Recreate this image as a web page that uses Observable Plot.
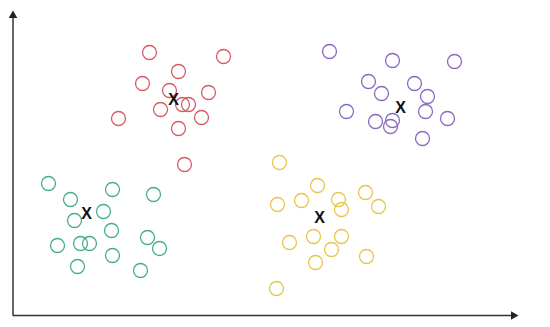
<!DOCTYPE html>
<html>
<head>
<meta charset="utf-8">
<script src="https://cdn.jsdelivr.net/npm/d3@7"></script>
<script src="https://cdn.jsdelivr.net/npm/@observablehq/plot@0.6"></script>
<style>
  html, body { margin: 0; padding: 0; background: #fff; }
  #chart svg { display: block; }
</style>
</head>
<body>
<div id="chart"></div>
<script>
// Cluster points (x to the right, y upward)
const redX = [149, 223, 178, 142, 169, 208, 160, 182, 188, 118, 201, 178, 184];
const redY = [275, 271, 256, 244, 237, 235, 218, 223, 223, 209, 210, 199, 163];

const purpleX = [329, 392, 454, 368, 414, 381, 427, 346, 425, 375, 392, 390, 447, 422];
const purpleY = [276, 267, 266, 246, 244, 234, 231, 216, 216, 206, 207, 201, 209, 189];

const greenX = [48, 70, 112, 153, 74, 103, 111, 57, 80, 89, 147, 159, 112, 77, 140];
const greenY = [144, 128, 138, 133, 107, 116, 97, 82, 84, 84, 90, 79, 72, 61, 57];

const yellowX = [279, 317, 277, 301, 338, 341, 365, 378, 289, 313, 341, 331, 315, 366, 276];
const yellowY = [165, 142, 123, 127, 128, 118, 135, 121, 85, 91, 91, 78, 65, 71, 39];

// Centroids (marked "X")
const centroidX = [173, 400, 86, 319];
const centroidY = [228, 220, 114, 110];
const centroidLabel = ["X", "X", "X", "X"];

// Axis extents
const axisOrigin = [12.5, 12];
const axisEnd = [513, 312];

const clusterNames = ["Cluster 1", "Cluster 2", "Cluster 3", "Cluster 4"];
const clusterColors = ["#d65a62", "#8a68c0", "#45ad88", "#e6c64a"];

const points = [];
[[redX, redY], [purpleX, purpleY], [greenX, greenY], [yellowX, yellowY]].forEach(([xs, ys], k) => {
  xs.forEach((x, i) => points.push({x, y: ys[i], cluster: clusterNames[k]}));
});
const centroids = centroidX.map((x, i) => ({x, y: centroidY[i], label: centroidLabel[i]}));

const chart = Plot.plot({
  width: 550,
  height: 327,
  marginLeft: 0, marginRight: 0, marginTop: 0, marginBottom: 0,
  x: {domain: [0, 550], axis: null},
  y: {domain: [0, 327], axis: null},
  color: {type: "ordinal", domain: clusterNames, range: clusterColors},
  style: {background: "#fff", fontFamily: "Liberation Sans, Arial, sans-serif"},
  marks: [
    Plot.ruleX([axisOrigin[0]], {y1: axisOrigin[1], y2: axisEnd[1], stroke: "#333", strokeWidth: 1.5}),
    Plot.ruleY([axisOrigin[1]], {x1: axisOrigin[0], x2: axisEnd[0], stroke: "#333", strokeWidth: 1.5}),
    Plot.dot([{x: axisOrigin[0], y: axisEnd[1]}], {x: "x", y: "y", symbol: "triangle", r: 3.2, fill: "#222", stroke: "none"}),
    Plot.dot([{x: axisEnd[0], y: axisOrigin[1]}], {x: "x", y: "y", symbol: "triangle", r: 3.2, fill: "#222", stroke: "none", rotate: 90}),
    Plot.dot(points, {x: "x", y: "y", r: 7, stroke: "cluster", strokeWidth: 1.3, fill: "none"}),
    Plot.text(centroids, {x: "x", y: "y", text: "label", fontSize: 16, fontWeight: "bold", fill: "#111"})
  ]
});
document.getElementById("chart").appendChild(chart);
</script>
</body>
</html>
